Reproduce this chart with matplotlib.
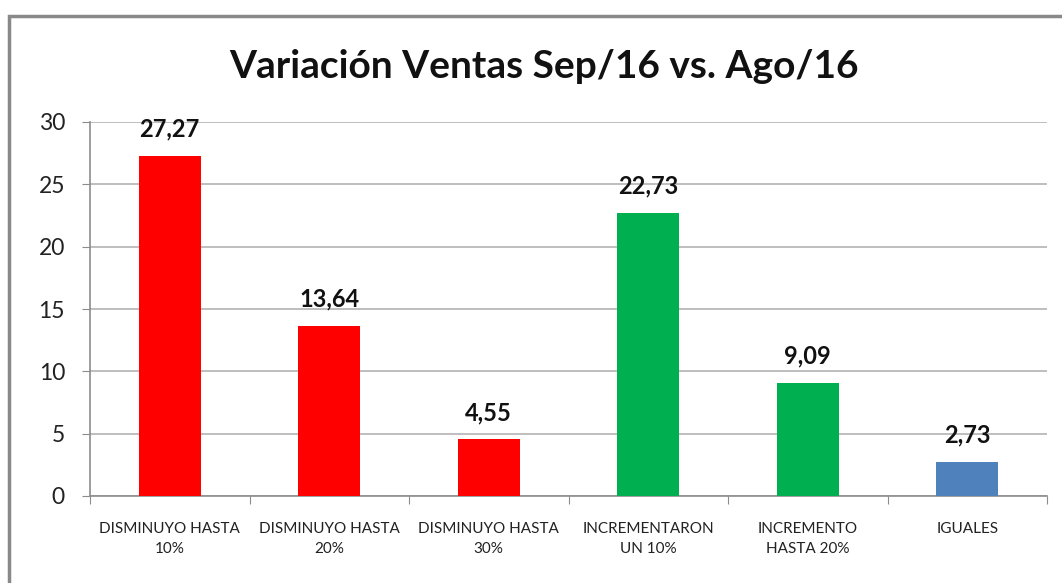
import matplotlib
matplotlib.use("Agg")
import matplotlib.pyplot as plt
from matplotlib.patches import Rectangle

# data
categorias = ["DISMINUYO HASTA\n10%", "DISMINUYO HASTA\n20%", "DISMINUYO HASTA\n30%",
              "INCREMENTARON\nUN 10%", "INCREMENTO\nHASTA 20%", "IGUALES"]
valores = [27.27, 13.64, 4.55, 22.73, 9.09, 2.73]
colores = ["#FF0000", "#FF0000", "#FF0000", "#00B050", "#00B050", "#4F81BD"]
yticks = [0, 5, 10, 15, 20, 25, 30]

plt.rcParams['font.family'] = ['Lato', 'DejaVu Sans']

W, H = 1062, 583
fig = plt.figure(figsize=(W / 100, H / 100), dpi=100)
ax = fig.add_axes([90 / W, 1 - 496 / H, (1047 - 90) / W, (496 - 122) / H])

# chart area border (left and top visible)
fig.patches.append(Rectangle((9 / W, -0.1), 1.2, 1 - 16 / H + 0.1, transform=fig.transFigure,
                             fill=False, edgecolor="#898989", linewidth=2.5))

x = range(len(valores))
ax.bar(x, valores, width=0.39, color=colores, zorder=3)
for i, v in enumerate(valores):
    ax.annotate(f"{v:.2f}".replace(".", ","), (i, v), xytext=(0, 11), textcoords="offset points",
                ha="center", va="bottom", fontsize=17, fontweight="bold", color="#111111")

ax.set_xlim(-0.5, len(valores) - 0.5)
ax.set_ylim(0, 30)
ax.set_yticks(yticks)
ax.tick_params(axis="y", labelsize=16.5, length=6, color="#8c8c8c", labelcolor="#222222", pad=12)
ax.set_xticks([i - 0.5 for i in range(len(valores) + 1)], minor=False)
ax.set_xticklabels([])
ax.set_xticks(list(x), minor=True)
ax.set_xticklabels(categorias, minor=True, fontsize=11, color="#222222", linespacing=1.55)
ax.tick_params(axis="x", which="major", length=6, color="#8c8c8c")
ax.tick_params(axis="x", which="minor", length=0, pad=19)

ax.grid(axis="y", color="#b3b3b3", linewidth=1.2, zorder=0)
for s in ["top", "right"]:
    ax.spines[s].set_visible(False)
for s in ["left", "bottom"]:
    ax.spines[s].set_color("#8c8c8c")
    ax.spines[s].set_linewidth(1.2)

fig.text(544 / W, 1 - 67 / H, "Variación Ventas Sep/16 vs. Ago/16", ha="center", va="center",
         fontsize=28, fontweight="bold", color="#111111")

fig.savefig("out.png", dpi=100)
